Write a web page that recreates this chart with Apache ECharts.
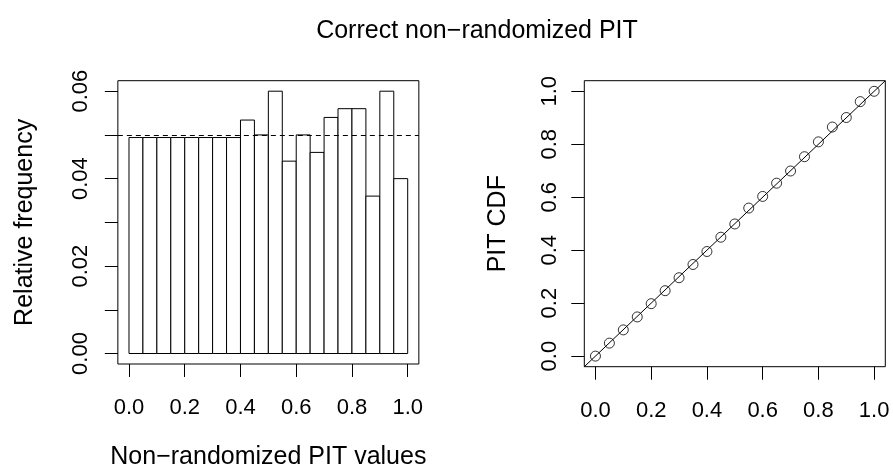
<!DOCTYPE html>
<html>
<head>
<meta charset="utf-8">
<script src="https://cdn.jsdelivr.net/npm/echarts@6/dist/echarts.min.js"></script>
<style>
html,body{margin:0;padding:0;background:#fff;}
#chart{width:893px;height:475px;}
</style>
</head>
<body>
<div id="chart"></div>
<script>
// ---- data ----
const binEdges = [0, 0.05, 0.1, 0.15, 0.2, 0.25, 0.3, 0.35, 0.4, 0.45, 0.5, 0.55, 0.6, 0.65, 0.7, 0.75, 0.8, 0.85, 0.9, 0.95, 1.0];
const relFreq = [0.0494, 0.0494, 0.0494, 0.0494, 0.0494, 0.0494, 0.0494, 0.0494, 0.0534, 0.05, 0.06, 0.044, 0.05, 0.046, 0.054, 0.056, 0.056, 0.036, 0.06, 0.04];
const refLevel = 0.05;
const pitX = [0, 0.05, 0.1, 0.15, 0.2, 0.25, 0.3, 0.35, 0.4, 0.45, 0.5, 0.55, 0.6, 0.65, 0.7, 0.75, 0.8, 0.85, 0.9, 0.95, 1.0];
const pitCDF = [0, 0.049, 0.099, 0.148, 0.198, 0.247, 0.296, 0.346, 0.395, 0.449, 0.499, 0.559, 0.603, 0.653, 0.699, 0.753, 0.809, 0.865, 0.901, 0.961, 1.0];
const diagRef = [-0.04, 1.04];
const xTicks = [0, 0.2, 0.4, 0.6, 0.8, 1.0];
const yTicksHist = [0, 0.01, 0.02, 0.03, 0.04, 0.05, 0.06];
const yLabelsHist = [0, 0.02, 0.04, 0.06];
const yTicksCDF = [0, 0.2, 0.4, 0.6, 0.8, 1.0];
const titleText = 'Correct non\u2212randomized PIT';
const xNameHist = 'Non\u2212randomized PIT values';
const yNameHist = 'Relative frequency';
const yNameCDF = 'PIT CDF';

// ---- build ----
const FONT = 'Liberation Sans, Arial, Helvetica, sans-serif';
const histData = relFreq.map((v, i) => [binEdges[i], binEdges[i + 1], v]);
const cdfData = pitX.map((x, i) => [x, pitCDF[i]]);
const diagData = [[diagRef[0], diagRef[0]], [diagRef[1], diagRef[1]]];

function xAxisCfg(gridIndex, name) {
  return {
    type: 'value', gridIndex: gridIndex, min: -0.04, max: 1.04,
    splitLine: {show: false},
    axisLine: {show: false, onZero: false},
    axisTick: {show: true, length: 13, customValues: xTicks, lineStyle: {color: '#000', width: 1}},
    axisLabel: {show: true, customValues: xTicks, margin: 33, color: '#000', fontSize: 22, lineHeight: 22, fontFamily: FONT,
      formatter: v => v.toFixed(1)},
    name: name, nameLocation: 'middle', nameGap: 81,
    nameTextStyle: {color: '#000', fontSize: 25, lineHeight: 25, fontFamily: FONT}
  };
}

const option = {
  animation: false,
  backgroundColor: '#fff',
  title: {
    text: titleText, left: 472, top: 14, textAlign: 'center',
    textStyle: {color: '#000', fontSize: 25, lineHeight: 25, fontWeight: 'normal', fontFamily: FONT}
  },
  grid: [
    {left: 117.85, top: 80.7, width: 301, height: 286, show: true, borderColor: '#000', borderWidth: 1, backgroundColor: 'transparent'},
    {left: 584.3, top: 80.7, width: 301, height: 286, show: true, borderColor: '#000', borderWidth: 1, backgroundColor: 'transparent'}
  ],
  xAxis: [xAxisCfg(0, xNameHist), xAxisCfg(1, '')],
  yAxis: [
    {
      type: 'value', gridIndex: 0, min: -0.0024, max: 0.0624,
      splitLine: {show: false}, axisLine: {show: false, onZero: false},
      axisTick: {show: true, length: 13, customValues: yTicksHist, lineStyle: {color: '#000', width: 1}},
      axisLabel: {show: true, customValues: yLabelsHist, rotate: 90, margin: 26, color: '#000', fontSize: 22, lineHeight: 22, fontFamily: FONT,
        formatter: v => v.toFixed(2)},
      name: yNameHist, nameLocation: 'middle', nameGap: 80,
      nameTextStyle: {color: '#000', fontSize: 25, lineHeight: 25, fontFamily: FONT}
    },
    {
      type: 'value', gridIndex: 1, min: -0.04, max: 1.04,
      splitLine: {show: false}, axisLine: {show: false, onZero: false},
      axisTick: {show: true, length: 13, customValues: yTicksCDF, lineStyle: {color: '#000', width: 1}},
      axisLabel: {show: true, customValues: yTicksCDF, rotate: 90, margin: 23, color: '#000', fontSize: 22, lineHeight: 22, fontFamily: FONT,
        formatter: v => v.toFixed(1)},
      name: yNameCDF, nameLocation: 'middle', nameGap: 74,
      nameTextStyle: {color: '#000', fontSize: 25, lineHeight: 25, fontFamily: FONT}
    }
  ],
  series: [
    {
      type: 'custom', xAxisIndex: 0, yAxisIndex: 0, silent: true,
      data: histData,
      encode: {x: [0, 1], y: 2},
      renderItem: function (params, api) {
        const p0 = api.coord([api.value(0), api.value(2)]);
        const p1 = api.coord([api.value(1), 0]);
        return {
          type: 'rect',
          shape: {x: p0[0], y: p0[1], width: p1[0] - p0[0], height: p1[1] - p0[1]},
          style: {fill: '#fff', stroke: '#000', lineWidth: 1}
        };
      },
      markLine: {
        silent: true, symbol: 'none', label: {show: false},
        lineStyle: {color: '#000', type: [5, 4], width: 1},
        data: [{yAxis: refLevel}]
      },
      z: 2
    },
    {
      type: 'line', xAxisIndex: 1, yAxisIndex: 1, silent: true,
      data: diagData, showSymbol: false, symbol: 'none',
      lineStyle: {color: '#000', width: 1}, z: 2
    },
    {
      type: 'scatter', xAxisIndex: 1, yAxisIndex: 1, silent: true,
      data: cdfData, symbol: 'circle', symbolSize: 10,
      itemStyle: {color: 'rgba(0,0,0,0)', borderColor: '#000', borderWidth: 1}, z: 3
    }
  ]
};

const chart = echarts.init(document.getElementById('chart'), null, {renderer: 'canvas'});
chart.setOption(option);
</script>
</body>
</html>
